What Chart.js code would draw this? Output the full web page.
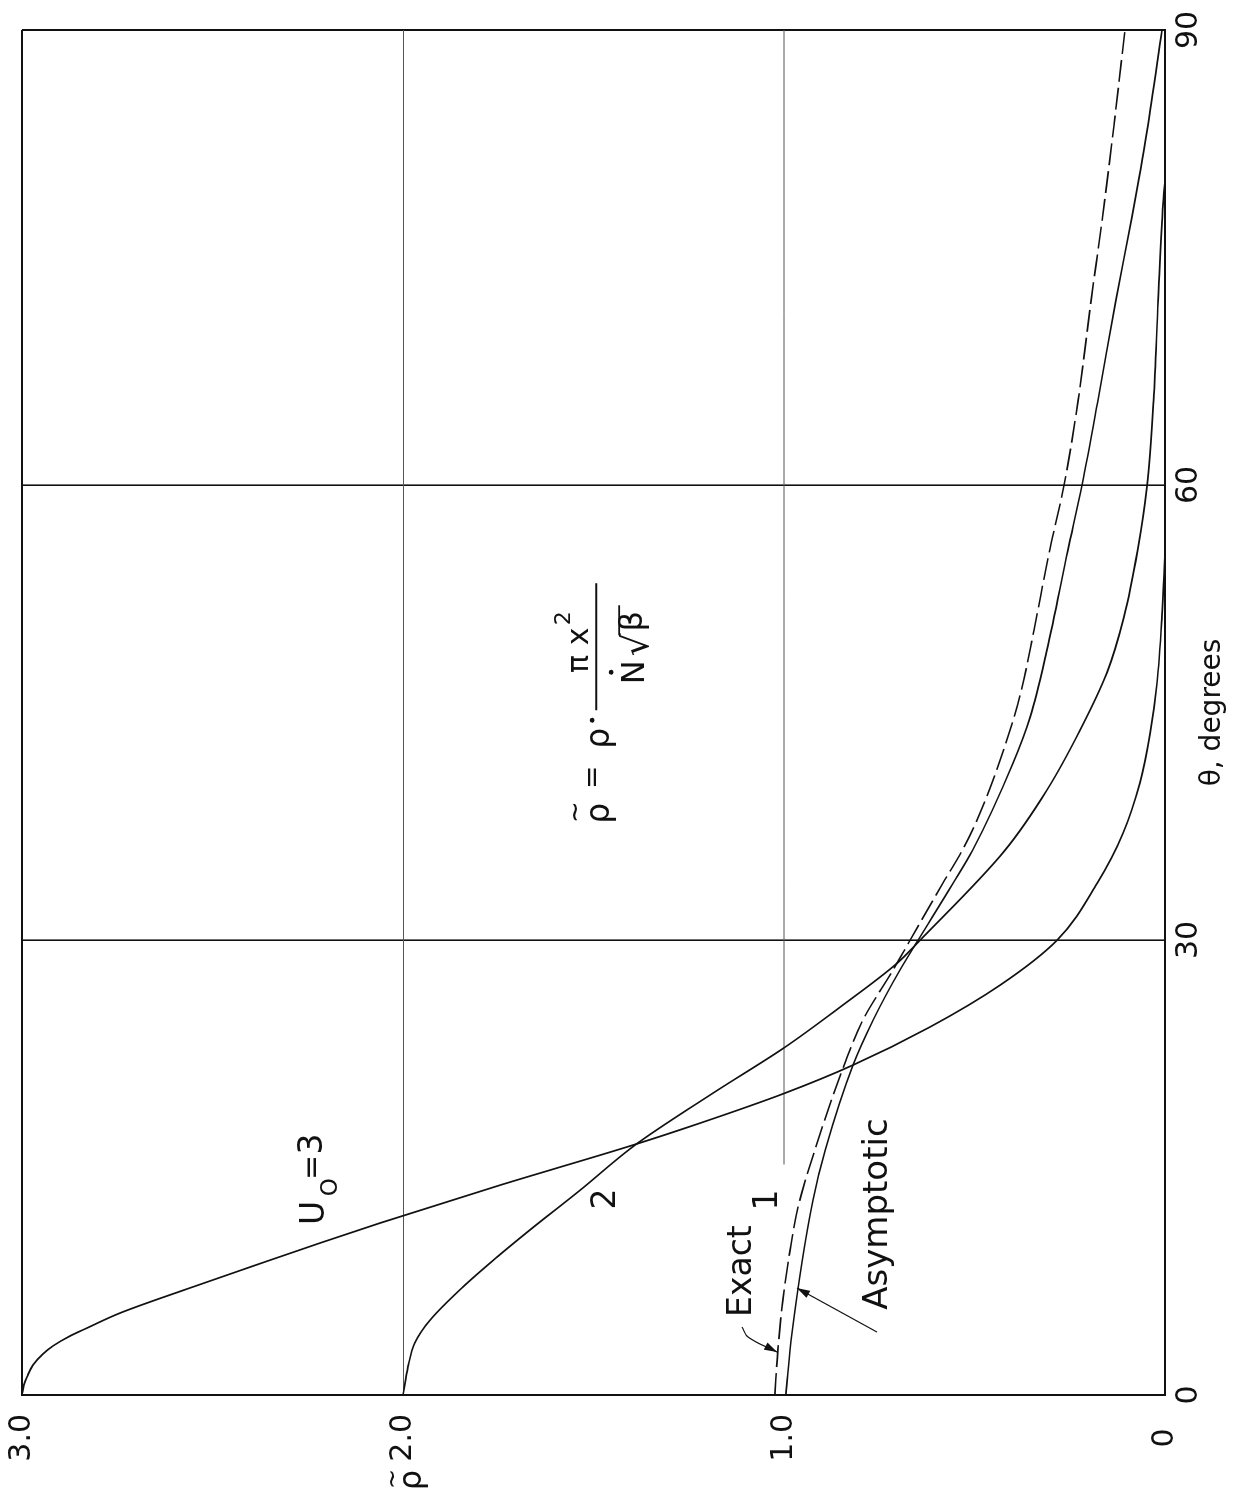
<!DOCTYPE html>
<html>
<head>
<meta charset="utf-8">
<script src="https://cdn.jsdelivr.net/npm/chart.js@4.4.1/dist/chart.umd.min.js"></script>
<style>
  html, body { margin: 0; padding: 0; background: #fff; overflow: hidden; }
  /* chart is drawn upright, then turned a quarter turn counter-clockwise like the original plate */
  #wrap { position: absolute; left: 0; top: 0; width: 1497px; height: 1247px;
          transform-origin: 0 0; transform: translate(0, 1497px) rotate(-90deg); }
</style>
</head>
<body>
<div id="wrap"><canvas id="chart" width="1497" height="1247"></canvas></div>
<script>
// theta in degrees, rho-tilde (dimensionless density)
const thetaTicks = [0, 30, 60, 90];
const rhoTicks = [0, 1, 2, 3];

const thetaU3 = [0, 0.66, 1.19, 1.98, 2.70, 3.23, 3.89, 4.42, 5.40, 6.99, 8.50, 10.02, 11.34, 13.84, 16.48, 17.93, 19.91, 21.75, 24.26, 27.02, 29.99, 33.75, 37.04, 40.34, 43.63, 46.93, 51.28, 55.5];
const rhoU3   = [3.0, 2.995, 2.987, 2.971, 2.945, 2.919, 2.874, 2.829, 2.743, 2.567, 2.394, 2.218, 2.060, 1.745, 1.396, 1.220, 0.997, 0.819, 0.617, 0.433, 0.283, 0.178, 0.110, 0.066, 0.039, 0.021, 0.008, 0.0];

const thetaU2 = [0, 1.85, 3.43, 4.94, 7.12, 9.10, 10.88, 13.51, 16.48, 19.91, 22.94, 25.57, 28.47, 29.99, 35.92, 39.88, 43.83, 47.65, 51.28, 55.69, 59.98, 65.58, 72.17, 78.57, 80.1];
const rhoU2   = [2.0, 1.987, 1.969, 1.929, 1.843, 1.753, 1.667, 1.535, 1.391, 1.186, 0.997, 0.853, 0.703, 0.643, 0.420, 0.310, 0.223, 0.152, 0.108, 0.072, 0.047, 0.030, 0.018, 0.005, 0.0];

// U0 = 1, exact solution (dashed)
const thetaExact = [0, 2.97, 6.26, 9.56, 12.39, 16.15, 21.55, 24.72, 28.01, 29.99, 33.75, 35.92, 38.10, 42.51, 46.27, 50.42, 55.56, 59.98, 65.58, 72.17, 77.64, 83.71, 90];
const rhoExact   = [1.024, 1.016, 1.003, 0.984, 0.963, 0.919, 0.845, 0.793, 0.714, 0.669, 0.583, 0.532, 0.490, 0.424, 0.379, 0.344, 0.304, 0.265, 0.228, 0.194, 0.164, 0.134, 0.105];

// U0 = 1, asymptotic solution (solid)
const thetaAsym = [0, 4.09, 12.85, 16.15, 21.75, 24.72, 28.01, 29.99, 33.75, 35.92, 41.66, 44.69, 49.10, 55.69, 59.98, 65.58, 72.17, 77.64, 83.38, 90];
const rhoAsym   = [0.995, 0.979, 0.924, 0.892, 0.819, 0.766, 0.696, 0.648, 0.556, 0.505, 0.399, 0.354, 0.310, 0.255, 0.218, 0.176, 0.129, 0.087, 0.047, 0.008];

// the rho = 1.0 rule is broken below the "1" label
const thetaRuleOne = [15.2, 90];
const rhoRuleOne   = [1, 1];

// leader lines for the "Exact" and "Asymptotic" notes
const thetaLeadExact = [4.48, 3.82, 2.83];
const rhoLeadExact   = [1.110, 1.094, 1.018];
const thetaLeadAsym  = [4.15, 7.05];
const rhoLeadAsym    = [0.756, 0.966];

const FONT = '"DejaVu Sans", "Liberation Sans", sans-serif';
const ink = '#111';

function pts(xs, ys) {
    return xs.map((x, i) => ({ x: x, y: ys[i] }));
}

function curve(label, xs, ys, extra) {
    return Object.assign({
        label: label,
        data: pts(xs, ys),
        borderColor: ink,
        borderWidth: 1.7,
        pointRadius: 0,
        fill: false,
        cubicInterpolationMode: 'monotone'
    }, extra || {});
}

// text notes, placed in data units
const notes = [
    { text: 'U', t: 12.0, r: 2.231, size: 33 },
    { text: 'O', t: 13.7, r: 2.190, size: 23 },
    { text: '=', t: 15.0, r: 2.236, size: 30 },
    { text: '3', t: 16.55, r: 2.234, size: 33 },
    { text: '2', t: 12.92, r: 1.465, size: 33 },
    { text: '1', t: 12.85, r: 1.040, size: 33 },
    { text: 'Exact', t: 8.17, r: 1.110, size: 33 },
    { text: 'Asymptotic', t: 11.93, r: 0.753, size: 34 }
];

function say(ctx, str, u, v, size, align) {
    ctx.font = size + 'px ' + FONT;
    ctx.textAlign = align || 'center';
    ctx.textBaseline = 'middle';
    ctx.fillText(str, u, v);
}

function arrowHead(ctx, pts2, len, half) {
    const a = pts2[pts2.length - 2], b = pts2[pts2.length - 1];
    const ang = Math.atan2(b.y - a.y, b.x - a.x);
    ctx.beginPath();
    ctx.moveTo(b.x, b.y);
    ctx.lineTo(b.x - len * Math.cos(ang) + half * Math.sin(ang), b.y - len * Math.sin(ang) - half * Math.cos(ang));
    ctx.lineTo(b.x - len * Math.cos(ang) - half * Math.sin(ang), b.y - len * Math.sin(ang) + half * Math.cos(ang));
    ctx.closePath();
    ctx.fill();
}

const annotate = {
    id: 'annotate',
    afterDatasetsDraw(chart) {
        const { ctx, scales: { x, y } } = chart;
        ctx.save();
        ctx.fillStyle = ink;
        ctx.strokeStyle = ink;

        // arrowheads on the two leaders
        chart.data.datasets.forEach((ds, i) => {
            if (ds.arrow) arrowHead(ctx, chart.getDatasetMeta(i).data, 13, 4);
        });

        notes.forEach(n => say(ctx, n.text, x.getPixelForValue(n.t), y.getPixelForValue(n.r), n.size));

        // formula  rho~ = rho . pi x^2 / (N-dot sqrt(beta))
        const u0 = x.getPixelForValue(45.15), v0 = y.getPixelForValue(1.493);
        say(ctx, 'ρ', u0 - 103, v0 + 4, 33);
        say(ctx, '~', u0 - 102, v0 - 20, 26);
        say(ctx, '=', u0 - 67, v0 - 2, 28);
        say(ctx, 'ρ', u0 - 28, v0 + 4, 33);
        ctx.beginPath(); ctx.arc(u0 - 10, v0 - 4, 2.4, 0, Math.PI * 2); ctx.fill();
        ctx.lineWidth = 2;
        ctx.beginPath(); ctx.moveTo(u0, v0); ctx.lineTo(u0 + 127, v0); ctx.stroke();
        say(ctx, 'π x', u0 + 60, v0 - 16, 30);
        say(ctx, '2', u0 + 92, v0 - 32, 22);
        say(ctx, 'N', u0 + 38, v0 + 40, 32);
        ctx.beginPath(); ctx.arc(u0 + 38, v0 + 15, 2.4, 0, Math.PI * 2); ctx.fill();
        ctx.font = '36px ' + FONT;
        ctx.textAlign = 'left';
        ctx.textBaseline = 'alphabetic';
        const base = v0 + 52;
        const rad = ctx.measureText('√');
        ctx.fillText('√', u0 + 54, base);
        const radTop = base - rad.actualBoundingBoxAscent;
        const radRight = u0 + 54 + rad.width;
        say(ctx, 'β', radRight + 12, v0 + 38, 32);
        ctx.lineWidth = 1.8;
        ctx.beginPath(); ctx.moveTo(radRight - 2, radTop + 1); ctx.lineTo(radRight + 28, radTop + 1); ctx.stroke();

        // axis titles, set in the tick-label column like the original
        say(ctx, 'θ, degrees', (x.left + x.right) / 2, x.top + 48, 28);
        const vr = y.getPixelForValue(2.0) + 6;
        say(ctx, 'ρ', 17, vr + 4, 32);
        say(ctx, '~', 18, vr - 15, 24);
        ctx.restore();
    }
};

new Chart(document.getElementById('chart'), {
    type: 'line',
    data: {
        datasets: [
            curve('U0 = 3', thetaU3, rhoU3),
            curve('U0 = 2', thetaU2, rhoU2),
            curve('Exact', thetaExact, rhoExact, { borderDash: [22, 6], borderWidth: 1.6 }),
            curve('Asymptotic', thetaAsym, rhoAsym, { borderWidth: 1.6 }),
            curve('rule', thetaRuleOne, rhoRuleOne, { borderColor: '#555', borderWidth: 1, cubicInterpolationMode: 'default' }),
            curve('lead exact', thetaLeadExact, rhoLeadExact, { borderWidth: 1.2, cubicInterpolationMode: 'default', tension: 0.4, arrow: true }),
            curve('lead asym', thetaLeadAsym, rhoLeadAsym, { borderWidth: 1.2, cubicInterpolationMode: 'default', arrow: true })
        ]
    },
    options: {
        responsive: false,
        animation: false,
        events: [],
        layout: { padding: { left: 0, right: 30, top: 22, bottom: 0 }, autoPadding: false },
        plugins: { legend: { display: false }, tooltip: { enabled: false } },
        scales: {
            x: {
                type: 'linear', position: 'bottom', min: 0, max: 90,
                afterBuildTicks: s => { s.ticks = thetaTicks.map(v => ({ value: v })); },
                afterFit: s => { s.height = 82; s.paddingLeft = 0; s.paddingRight = 0; },
                ticks: { padding: 6, maxRotation: 0, autoSkip: false, color: ink,
                         font: { family: FONT, size: 30 }, callback: v => String(v) },
                grid: { drawTicks: false, color: ink,
                        lineWidth: c => (c.tick && (c.tick.value === 0 || c.tick.value === 90)) ? 2 : 1.6 },
                border: { display: true, color: ink, width: 2 }
            },
            y: {
                type: 'linear', position: 'left', min: 0, max: 3,
                afterBuildTicks: s => { s.ticks = rhoTicks.map(v => ({ value: v })); },
                afterFit: s => { s.width = 102; s.paddingTop = 0; s.paddingBottom = 0; },
                ticks: { padding: 19, crossAlign: 'center', color: ink,
                         font: { family: FONT, size: 30 }, callback: v => v === 0 ? '0' : v.toFixed(1) },
                grid: { drawTicks: false,
                        color: c => (c.tick && c.tick.value === 1) ? 'rgba(0,0,0,0)' : (c.tick && c.tick.value === 2 ? '#555' : ink),
                        lineWidth: c => (c.tick && (c.tick.value === 0 || c.tick.value === 3)) ? 2 : 1 },
                border: { display: true, color: ink, width: 2 }
            }
        }
    },
    plugins: [annotate]
});
</script>
</body>
</html>
